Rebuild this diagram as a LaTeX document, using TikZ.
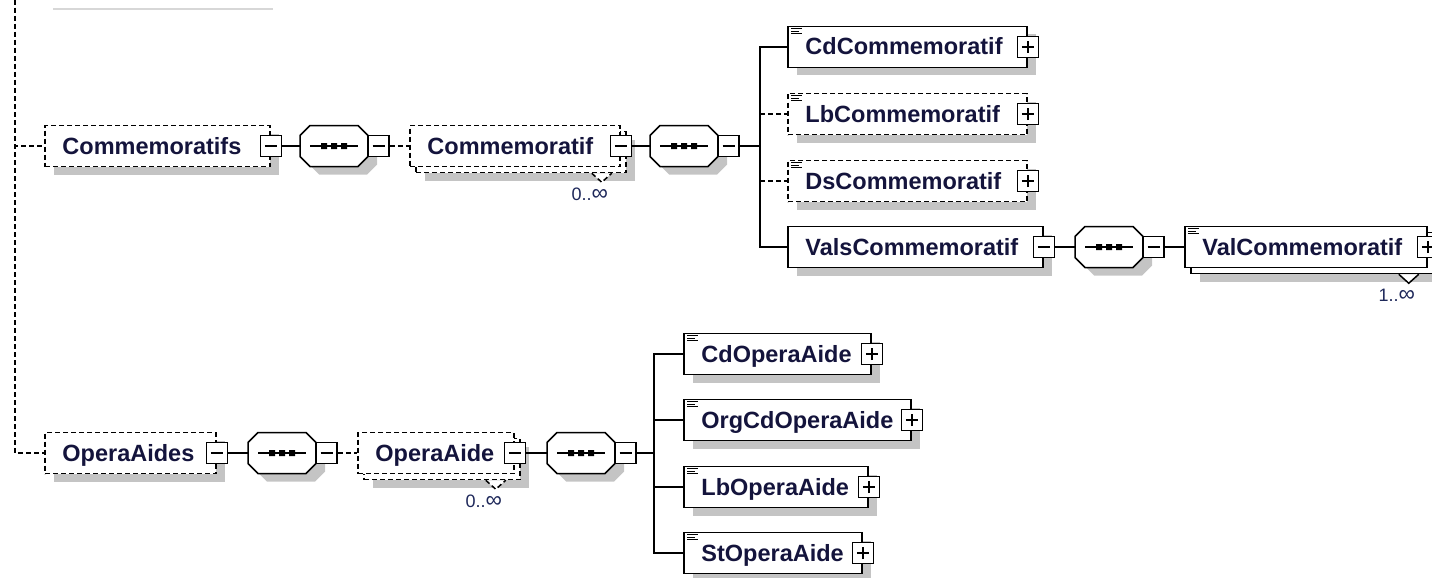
\documentclass[tikz,border=0pt]{standalone}
\usepackage{fontspec}
\setmainfont{Liberation Sans}
\definecolor{shadowgray}{RGB}{196,196,196}
\definecolor{txtcol}{RGB}{20,20,60}
\definecolor{occcol}{RGB}{30,40,90}
\definecolor{topgray}{RGB}{215,215,215}
\tikzset{
  ln/.style={line width=1.5pt},
  dsh/.style={dash pattern=on 5pt off 3pt},
  shadowed/.style={preaction={fill=shadowgray, draw=none, transform canvas={shift={(9pt,-8pt)}}}},
  plainbox/.style={rectangle, draw=black, ln, fill=white, inner sep=0pt, minimum height=41},
  reqbox/.style={plainbox, shadowed},
  optbox/.style={plainbox, dsh, shadowed},
  optplain/.style={plainbox, dsh},
  seqarea/.style={rectangle, draw=none, inner sep=0pt, minimum width=68, minimum height=41},
  sq/.style={rectangle, draw=black, ln, fill=white, inner sep=0pt, minimum size=21},
  minus/.style={sq, path picture={\draw[ln] ([xshift=-6pt]path picture bounding box.center) -- ([xshift=6pt]path picture bounding box.center);}},
  plus/.style={sq, path picture={\draw[ln] ([xshift=-6pt]path picture bounding box.center) -- ([xshift=6pt]path picture bounding box.center) ([yshift=-6pt]path picture bounding box.center) -- ([yshift=6pt]path picture bounding box.center);}},
  lbl/.style={font=\bfseries\fontsize{23.5}{28}\selectfont, text=txtcol, inner sep=0pt, anchor=base west},
  occ/.style={font=\fontsize{18}{22}\selectfont, text=occcol, inner sep=0pt},
  conn/.style={ln},
  optconn/.style={ln, dsh},
  iconline/.style={line width=1pt}
}
\newcommand\Inf{{\fontsize{23}{22}\selectfont ∞}}
% #1 style, #2 name, #3 left, #4 right, #5 centre y, #6 text
\newcommand\ElemBox[6]{%
  \node[#1, minimum width={#4-#3}] (#2) at ({(#3+#4)/2},#5) {};
  \node[lbl] (#2-t) at ([xshift=18pt,yshift=-8pt]#2.west) {#6};}
% back box of a repeated element
\newcommand\BackBox[5]{%
  \node[#1, minimum width={#4-#3}] (#2) at ({(#3+#4)/2+6},{#5+6}) {};}
\newcommand\Notch[2]{%
  \filldraw[ln, fill=white, #2] ([xshift=-35pt]#1.south east) -- ([xshift=-25pt,yshift=-9pt]#1.south east) -- ([xshift=-15pt]#1.south east);}
\newcommand\Icon[1]{%
  \draw[iconline] ([xshift=4pt,yshift=-3pt]#1.north west) -- ++(11,0)
    ([xshift=4pt,yshift=-5.5pt]#1.north west) -- ++(8,0)
    ([xshift=4pt,yshift=-8pt]#1.north west) -- ++(11,0);}
% sequence compositor: name, left x, centre y
\newcommand\Seq[3]{%
  \node[seqarea] (#1) at ({#2+34},#3) {};
  \begin{scope}[shift={(#2,#3)}]
    \fill[shadowgray] (19,-12.5) -- (67,-12.5) -- (77,-2.5) -- (77,18.5) -- (67,28.5) -- (19,28.5) -- (9,18.5) -- (9,-2.5) -- cycle;
    \draw[ln, fill=white] (10,-20.5) -- (58,-20.5) -- (68,-10.5) -- (68,10.5) -- (58,20.5) -- (10,20.5) -- (0,10.5) -- (0,-10.5) -- cycle;
    \draw[ln] (10,0) -- (58,0);
    \fill (21,-3) rectangle (27,3) (31,-3) rectangle (37,3) (41,-3) rectangle (47,3);
  \end{scope}
  \node[minus] (#1-pm) at ({#2+78.5},#3) {};}
\begin{document}
\begin{tikzpicture}[x=1pt,y=-1pt]
\useasboundingbox (0,0) rectangle (1432,578);
\clip (0,0) rectangle (1432,578);

\draw[topgray, line width=1.5pt] (53,9) -- (273,9);

% ---------- Row 1 ----------
\ElemBox{optbox}{commemoratifs}{45}{270}{146}{Commemoratifs}
\node[minus] (commemoratifs-pm) at (commemoratifs.east) {};
\Seq{seqA}{300}{146}
\BackBox{optbox}{commemoratif-back}{410}{620}{146}
\Notch{commemoratif-back}{dsh}
\ElemBox{optplain}{commemoratif}{410}{620}{146}{Commemoratif}
\node[minus] (commemoratif-pm) at (commemoratif.east) {};
\node[occ] (commemoratif-occ) at ([xshift=-37pt,yshift=-21pt]commemoratif-back.south east) {0..\Inf};
\Seq{seqB}{650}{146}

\ElemBox{reqbox}{cdcommemoratif}{788}{1027}{47}{CdCommemoratif}
\Icon{cdcommemoratif}
\node[plus] (cdcommemoratif-pm) at (cdcommemoratif.east) {};
\ElemBox{optbox}{lbcommemoratif}{788}{1027}{114}{LbCommemoratif}
\Icon{lbcommemoratif}
\node[plus] (lbcommemoratif-pm) at (lbcommemoratif.east) {};
\ElemBox{optbox}{dscommemoratif}{788}{1027}{181}{DsCommemoratif}
\Icon{dscommemoratif}
\node[plus] (dscommemoratif-pm) at (dscommemoratif.east) {};
\ElemBox{reqbox}{valscommemoratif}{788}{1043}{247}{ValsCommemoratif}
\node[minus] (valscommemoratif-pm) at (valscommemoratif.east) {};
\Seq{seqC}{1075}{247}
\BackBox{reqbox}{valcommemoratif-back}{1185}{1427}{247}
\Notch{valcommemoratif-back}{}
\ElemBox{plainbox}{valcommemoratif}{1185}{1427}{247}{ValCommemoratif}
\Icon{valcommemoratif}
\node[plus] (valcommemoratif-pm) at (valcommemoratif.east) {};
\node[occ] (valcommemoratif-occ) at ([xshift=-37pt,yshift=-21pt]valcommemoratif-back.south east) {1..\Inf};

% ---------- Row 2 ----------
\ElemBox{optbox}{operaaides}{45}{216}{453}{OperaAides}
\node[minus] (operaaides-pm) at (operaaides.east) {};
\Seq{seqD}{248}{453}
\BackBox{optbox}{operaaide-back}{358}{514}{453}
\Notch{operaaide-back}{dsh}
\ElemBox{optplain}{operaaide}{358}{514}{453}{OperaAide}
\node[minus] (operaaide-pm) at (operaaide.east) {};
\node[occ] (operaaide-occ) at ([xshift=-37pt,yshift=-21pt]operaaide-back.south east) {0..\Inf};
\Seq{seqE}{547}{453}

\ElemBox{reqbox}{cdoperaaide}{684}{871}{354}{CdOperaAide}
\Icon{cdoperaaide}
\node[plus] (cdoperaaide-pm) at (cdoperaaide.east) {};
\ElemBox{reqbox}{orgcdoperaaide}{684}{911}{420}{OrgCdOperaAide}
\Icon{orgcdoperaaide}
\node[plus] (orgcdoperaaide-pm) at (orgcdoperaaide.east) {};
\ElemBox{reqbox}{lboperaaide}{684}{868}{487}{LbOperaAide}
\Icon{lboperaaide}
\node[plus] (lboperaaide-pm) at (lboperaaide.east) {};
\ElemBox{reqbox}{stoperaaide}{684}{862}{553}{StOperaAide}
\Icon{stoperaaide}
\node[plus] (stoperaaide-pm) at (stoperaaide.east) {};

% ---------- Connectors ----------
\coordinate (root) at (15,0);
\draw[optconn] (root) |- (commemoratifs.west);
\draw[optconn] (root) |- (operaaides.west);

\draw[conn] (commemoratifs-pm.east) -- (seqA.west);
\draw[optconn] (seqA-pm.east) -- (commemoratif.west);
\draw[conn] (commemoratif-pm.east) -- (seqB.west);
\coordinate (busA) at (760,146);
\draw[conn] (seqB-pm.east) -- (busA);
\draw[conn] (cdcommemoratif.west) -| (busA |- valscommemoratif.west) -- (valscommemoratif.west);
\draw[optconn] (busA |- lbcommemoratif.west) -- (lbcommemoratif.west);
\draw[optconn] (busA |- dscommemoratif.west) -- (dscommemoratif.west);
\draw[conn] (valscommemoratif-pm.east) -- (seqC.west);
\draw[conn] (seqC-pm.east) -- (valcommemoratif.west);

\draw[conn] (operaaides-pm.east) -- (seqD.west);
\draw[optconn] (seqD-pm.east) -- (operaaide.west);
\draw[conn] (operaaide-pm.east) -- (seqE.west);
\coordinate (busB) at (654,453);
\draw[conn] (seqE-pm.east) -- (busB);
\draw[conn] (cdoperaaide.west) -| (busB |- stoperaaide.west) -- (stoperaaide.west);
\draw[conn] (busB |- orgcdoperaaide.west) -- (orgcdoperaaide.west);
\draw[conn] (busB |- lboperaaide.west) -- (lboperaaide.west);
\end{tikzpicture}
\end{document}
